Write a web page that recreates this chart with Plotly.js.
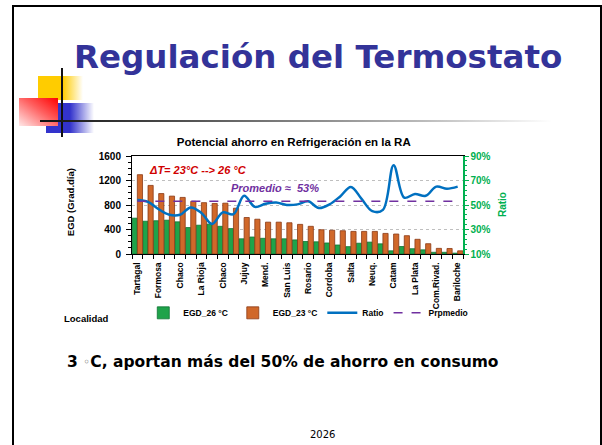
<!DOCTYPE html>
<html>
<head>
<meta charset="utf-8">
<script src="https://cdn.plot.ly/plotly-3.0.1.min.js"></script>
<style>
  body { margin: 0; width: 602px; height: 445px; overflow: hidden; background: #fff; position: relative; }
  #marco { position: absolute; left: 12px; top: 5px; width: 586px; height: 460px; border: 2px solid #000; }
  .deco { position: absolute; }
  #amarillo { left: 38px; top: 76px; width: 45px; height: 24px; background: linear-gradient(to right, #FFCC00 0%, #FFCC00 55%, rgba(255,204,0,0) 100%); }
  #azul { left: 46px; top: 103px; width: 48px; height: 30px; background: linear-gradient(to right, #3333CC 0%, #3333CC 50%, rgba(51,51,204,0) 100%); }
  #rojo { left: 19px; top: 98px; width: 39px; height: 28px; background: linear-gradient(to bottom left, #FF0000 0%, #FF6060 45%, #FFE8E8 100%); }
  #vertical { left: 61px; top: 68px; width: 2px; height: 69px; background: #111; }
  #horizontal { left: 40px; top: 120px; width: 512px; height: 2px; background: linear-gradient(to right, #111 0%, #555 30%, #bbb 75%, rgba(255,255,255,0) 100%); }
  #titulo { position: absolute; left: 74px; top: 41px; font-family: "DejaVu Sans", sans-serif; font-weight: bold; font-size: 32.5px; line-height: 32px; color: #333399; white-space: nowrap; }
  #conclusion { position: absolute; left: 67px; top: 354px; font-family: "DejaVu Sans", sans-serif; font-weight: bold; font-size: 15.5px; line-height: 16px; color: #000; white-space: nowrap; }
  #conclusion span { font-family: "DejaVu Sans", sans-serif; color: #666; font-size: 12px; font-weight: normal; vertical-align: 1px; }
  #anio { position: absolute; left: 310px; top: 429px; font-family: "DejaVu Sans", sans-serif; font-size: 10px; line-height: 12px; color: #000; }
  #myDiv { position: absolute; left: 0; top: 0; width: 602px; height: 445px; }
</style>
</head>
<body>
<div id="marco"></div>
<div class="deco" id="amarillo"></div>
<div class="deco" id="azul"></div>
<div class="deco" id="rojo"></div>
<div class="deco" id="vertical"></div>
<div class="deco" id="horizontal"></div>
<div id="titulo">Regulación del Termostato</div>
<div id="myDiv"></div>
<div id="conclusion">3 <span>◦</span>C, aportan más del 50% de ahorro en consumo</div>
<div id="anio">2026</div>
<script>
// Localidades rotuladas (una de cada dos en el eje)
const etiquetas = ['Tartagal', 'Formosa', 'Chaco', 'La Rioja', 'Chaco', 'Jujuy', 'Mend.', 'San Luis',
    'Rosario', 'Cordoba', 'Salta', 'Neuq.', 'Catam', 'La Plata', 'Com.Rivad.', 'Bariloche'];

// EGD (Grad.dia) por localidad
const egd26 = [585, 535, 543, 552, 525, 432, 470, 488, 452, 415, 248, 277, 256, 248, 248, 230,
    204, 199, 180, 147, 120, 176, 194, 166, 52, 122, 86, 68, 28, 28, 14];
const egd23 = [1295, 1120, 987, 945, 924, 860, 838, 825, 830, 748, 596, 568, 520, 520, 510, 484,
    452, 396, 388, 380, 369, 369, 369, 336, 326, 299, 240, 168, 92, 90, 52];

// Ratio de ahorro (%)
const ratio = [54, 52.5, 46.5, 42, 42, 48, 43.5, 34.5, 44, 42.5, 57.5, 48.5, 51, 52, 50, 50.5,
    53, 47.5, 50.5, 57, 64.7, 55, 45, 46, 82.5, 56, 59, 57.5, 65, 63.3, 65];
const promedio = [53, 53, 53, 53, 53, 53, 53, 53, 53, 53, 53, 53, 53, 53, 53, 53,
    53, 53, 53, 53, 53, 53, 53, 53, 53, 53, 53, 53, 53, 53, 53];

const xs = egd23.map((_, i) => i);
const fuente = 'Liberation Sans, Arial, sans-serif';

const getData = () => {
    return [
        {
            x: xs, y: egd26, type: 'bar', name: 'EGD_26 °C',
            marker: { color: '#1FA34A', line: { color: '#0E7433', width: 0.8 } }
        },
        {
            x: xs, y: egd23, type: 'bar', name: 'EGD_23 °C',
            marker: { color: '#D0682A', line: { color: '#8A3A15', width: 0.8 } }
        },
        {
            x: xs, y: ratio, type: 'scatter', mode: 'lines', name: 'Ratio', yaxis: 'y2',
            line: { color: '#0070C0', width: 2.5, shape: 'spline', smoothing: 1 }
        },
        {
            x: xs, y: promedio, type: 'scatter', mode: 'lines', name: 'Prpmedio', yaxis: 'y2',
            line: { color: '#7030A0', width: 1.5, dash: 'dash' }
        }
    ];
}

const getLayout = () => {
    return {
        width: 602,
        height: 445,
        margin: { l: 132, r: 139, t: 156, b: 191 },
        paper_bgcolor: 'rgba(0,0,0,0)',
        plot_bgcolor: 'rgba(0,0,0,0)',
        font: { family: fuente, color: '#000' },
        showlegend: true,
        barmode: 'group',
        bargap: 0.03,
        bargroupgap: 0,
        title: {
            text: 'Potencial ahorro en Refrigeración en la RA',
            font: { size: 11.5, weight: 'bold', family: fuente },
            xref: 'container', x: 0.488, xanchor: 'center',
            yref: 'container', y: 0.68, yanchor: 'middle'
        },
        xaxis: {
            range: [-0.5, 30.5],
            tickmode: 'array',
            tickvals: etiquetas.map((_, i) => 2 * i),
            ticktext: etiquetas,
            tickangle: -90,
            tickfont: { size: 8.5, weight: 'bold' },
            ticks: '',
            ticklabelstandoff: 4,
            showline: true, linecolor: '#000', linewidth: 1, mirror: true,
            showgrid: false, zeroline: false,
            minor: { tickmode: 'linear', tick0: -0.5, dtick: 1, ticks: 'outside', ticklen: 4, tickcolor: '#000', showgrid: false }
        },
        yaxis: {
            range: [0, 1600],
            dtick: 400,
            tickfont: { size: 10, weight: 'bold' },
            ticks: 'outside', ticklen: 5, tickcolor: '#000',
            ticklabelstandoff: 3,
            showline: true, linecolor: '#000', linewidth: 1,
            showgrid: true, gridcolor: '#BFBFBF', griddash: 'dot', gridwidth: 1,
            zeroline: false,
            minor: { dtick: 100, ticks: 'outside', ticklen: 3, tickcolor: '#000', showgrid: false }
        },
        yaxis2: {
            overlaying: 'y',
            side: 'right',
            range: [10, 90],
            tick0: 10,
            dtick: 20,
            ticksuffix: '%',
            tickfont: { size: 10, weight: 'bold', color: '#00B050' },
            ticks: 'outside', ticklen: 4, tickcolor: '#00B050',
            showline: true, linecolor: '#00B050', linewidth: 1.5,
            showgrid: false, zeroline: false,
            minor: { tick0: 10, dtick: 4, ticks: 'outside', ticklen: 2, tickcolor: '#00B050', showgrid: false }
        },
        legend: {
            orientation: 'h',
            xref: 'container', x: 0.238, xanchor: 'left',
            yref: 'container', y: 0.297, yanchor: 'middle',
            font: { size: 8.5, weight: 'bold' },
            itemwidth: 30,
            bgcolor: 'rgba(0,0,0,0)',
            traceorder: 'normal'
        },
        annotations: [
            {
                text: 'ΔT= 23°C --> 26 °C', xref: 'paper', yref: 'paper', x: 0.2, y: 0.858,
                xanchor: 'center', yanchor: 'middle',
                showarrow: false, font: { size: 11, color: '#D00000', weight: 'bold', style: 'italic' }
            },
            {
                text: 'Promedio ≈  53%', xref: 'paper', yref: 'paper', x: 0.432, y: 0.671,
                xanchor: 'center', yanchor: 'middle',
                showarrow: false, font: { size: 11, color: '#7030A0', weight: 'bold', style: 'italic' }
            },
            {
                text: 'EGD (Grad.día)', xref: 'paper', yref: 'paper', x: -0.187, y: 0.53,
                xanchor: 'center', yanchor: 'middle',
                textangle: -90, showarrow: false, font: { size: 9.5, weight: 'bold' }
            },
            {
                text: 'Ratio', xref: 'paper', yref: 'paper', x: 1.118, y: 0.5,
                xanchor: 'center', yanchor: 'middle',
                textangle: -90, showarrow: false, font: { size: 10, weight: 'bold', color: '#00B050' }
            },
            {
                text: 'Localidad', xref: 'paper', yref: 'paper', x: -0.136, y: -0.658,
                xanchor: 'center', yanchor: 'middle',
                showarrow: false, font: { size: 9.5, weight: 'bold' }
            }
        ]
    };
}

Plotly.newPlot('myDiv', getData(), getLayout(), { displayModeBar: false, staticPlot: true });
</script>
</body>
</html>
